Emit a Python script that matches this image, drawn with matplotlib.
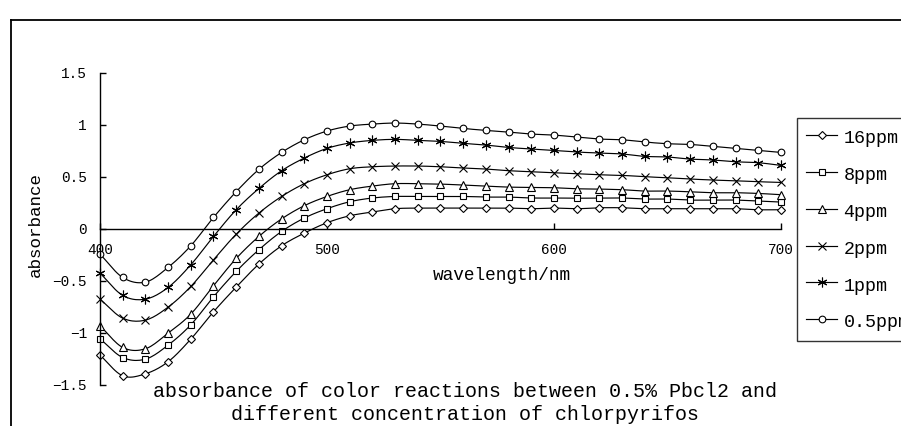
import matplotlib
matplotlib.use("Agg")
import matplotlib.pyplot as plt
from matplotlib.lines import Line2D
import numpy as np

# wavelength grid [nm] and absorbance
wavelength = [400, 410, 420, 430, 440, 450, 460, 470, 480, 490, 500,
              510, 520, 530, 540, 550, 560, 570, 580, 590, 600,
              610, 620, 630, 640, 650, 660, 670, 680, 690, 700]

a16 = [-1.217, -1.416, -1.397, -1.281, -1.063, -0.800, -0.562, -0.340, -0.164, -0.042, 0.058,
       0.125, 0.161, 0.193, 0.199, 0.199, 0.199, 0.199, 0.199, 0.193, 0.199,
       0.193, 0.202, 0.202, 0.193, 0.193, 0.193, 0.193, 0.193, 0.183, 0.183]
a8 = [-1.060, -1.240, -1.256, -1.121, -0.925, -0.655, -0.411, -0.202, -0.026, 0.103, 0.193,
      0.260, 0.296, 0.311, 0.311, 0.311, 0.311, 0.305, 0.305, 0.296, 0.296,
      0.294, 0.296, 0.296, 0.286, 0.286, 0.276, 0.276, 0.276, 0.267, 0.257]
a4 = [-0.934, -1.143, -1.156, -1.005, -0.822, -0.549, -0.286, -0.074, 0.095, 0.222, 0.311,
      0.376, 0.411, 0.434, 0.434, 0.430, 0.421, 0.411, 0.401, 0.398, 0.395,
      0.385, 0.382, 0.376, 0.363, 0.363, 0.356, 0.347, 0.347, 0.340, 0.328]
a2 = [-0.678, -0.861, -0.880, -0.755, -0.556, -0.299, -0.052, 0.151, 0.311, 0.434, 0.520,
      0.578, 0.597, 0.604, 0.604, 0.597, 0.585, 0.575, 0.559, 0.549, 0.539,
      0.530, 0.520, 0.514, 0.501, 0.491, 0.479, 0.469, 0.462, 0.453, 0.446]
a1 = [-0.427, -0.642, -0.678, -0.565, -0.347, -0.074, 0.183, 0.388, 0.559, 0.681, 0.774,
      0.826, 0.851, 0.861, 0.851, 0.841, 0.822, 0.806, 0.783, 0.768, 0.754,
      0.739, 0.729, 0.720, 0.697, 0.691, 0.671, 0.662, 0.645, 0.636, 0.610]
a05 = [-0.244, -0.469, -0.514, -0.372, -0.164, 0.109, 0.357, 0.572, 0.735, 0.857, 0.941,
       0.989, 1.008, 1.018, 1.008, 0.989, 0.966, 0.947, 0.931, 0.912, 0.902,
       0.883, 0.864, 0.857, 0.835, 0.819, 0.812, 0.793, 0.774, 0.754, 0.735]

labels = ["16ppm", "8ppm", "4ppm", "2ppm", "1ppm", "0.5ppm"]
series = [a16, a8, a4, a2, a1, a05]
markers = [("D", 3.8), ("s", 4.4), ("^", 5.2), ("x", 5.6), ((6, 2, 0), 7.0), ("o", 4.8)]

FONT = "Liberation Mono"
W, H = 901, 426


def smooth(x, y, n=12):
    """catmull-rom through the points (like excel's smoothed line)."""
    x = np.asarray(x, float); y = np.asarray(y, float)
    px = np.concatenate([[2*x[0]-x[1]], x, [2*x[-1]-x[-2]]])
    py = np.concatenate([[2*y[0]-y[1]], y, [2*y[-1]-y[-2]]])
    xs, ys = [], []
    t = np.linspace(0, 1, n, endpoint=False)
    for i in range(1, len(px)-2):
        for p, out in ((px, xs), (py, ys)):
            p0, p1, p2, p3 = p[i-1], p[i], p[i+1], p[i+2]
            out.append(0.5*((2*p1) + (-p0+p2)*t + (2*p0-5*p1+4*p2-p3)*t**2
                            + (-p0+3*p1-3*p2+p3)*t**3))
    xs.append([x[-1]]); ys.append([y[-1]])
    return np.concatenate(xs), np.concatenate(ys)


fig = plt.figure(figsize=(W/100, H/100), dpi=100)
ax = fig.add_axes([100/W, 1-384.5/H, 681/W, 311.5/H])

handles = []
for y, (m, ms), lab in zip(series, markers, labels):
    sx, sy = smooth(wavelength, y)
    ax.plot(sx, sy, color="black", lw=0.85)
    ax.plot(wavelength, y, ls="none", marker=m, ms=ms, mfc="white", mec="black",
            mew=0.8, clip_on=False)
    handles.append(Line2D([], [], color="black", lw=0.85, marker=m, ms=ms,
                          mfc="white", mec="black", mew=0.8))

ax.set_xlim(400, 700)
ax.set_ylim(-1.5, 1.5)
ax.set_xticks([400, 500, 600, 700])
ax.set_yticks([-1.5, -1, -0.5, 0, 0.5, 1, 1.5])
ax.set_yticklabels(["\u22121.5", "\u22121", "\u22120.5", "0", "0.5", "1", "1.5"])
for s in ("top", "right"):
    ax.spines[s].set_visible(False)
ax.spines["bottom"].set_position(("data", 0))
for s in ("left", "bottom"):
    ax.spines[s].set_linewidth(1.0)
ax.tick_params(axis="y", direction="in", length=4.5, width=1.0, pad=9.4,
               labelsize=10.4, labelfontfamily=FONT)
ax.tick_params(axis="x", direction="in", length=4.0, width=1.0, pad=10.5,
               labelsize=10.4, labelfontfamily=FONT)
ax.patch.set_alpha(0)

fig.text(502/W, 1-275/H, "wavelength/nm", family=FONT, fontsize=12.8,
         ha="center", va="center")
fig.text(35/W, 1-224.5/H, "absorbance", family=FONT, fontsize=12.6,
         rotation=90, ha="center", va="center")
fig.text(465/W, 1-403/H,
         "absorbance of color reactions between 0.5% Pbcl2 and\n"
         "different concentration of chlorpyrifos",
         family=FONT, fontsize=14.4, ha="center", va="center",
         multialignment="center", linespacing=1.3)

# legend runs past the right edge, as in the original
leg = fig.legend(handles, labels, loc="upper left",
                 bbox_to_anchor=(797/W, 1-118/H), bbox_transform=fig.transFigure,
                 borderaxespad=0, prop={"family": FONT, "size": 13.2},
                 handlelength=1.7, handleheight=1.3, handletextpad=0.33,
                 labelspacing=0.91, borderpad=0.5, fancybox=False, frameon=True)
leg.get_frame().set_edgecolor("black")
leg.get_frame().set_linewidth(1.0)

# outer chart frame (left and top edges show in the crop)
fig.add_artist(Line2D([11/W, 11/W], [-0.05, 1-20/H], transform=fig.transFigure,
                      color="black", lw=1.3))
fig.add_artist(Line2D([11/W, 1.01], [1-20/H, 1-20/H], transform=fig.transFigure,
                      color="black", lw=1.3))

fig.savefig("out.png", dpi=100)
